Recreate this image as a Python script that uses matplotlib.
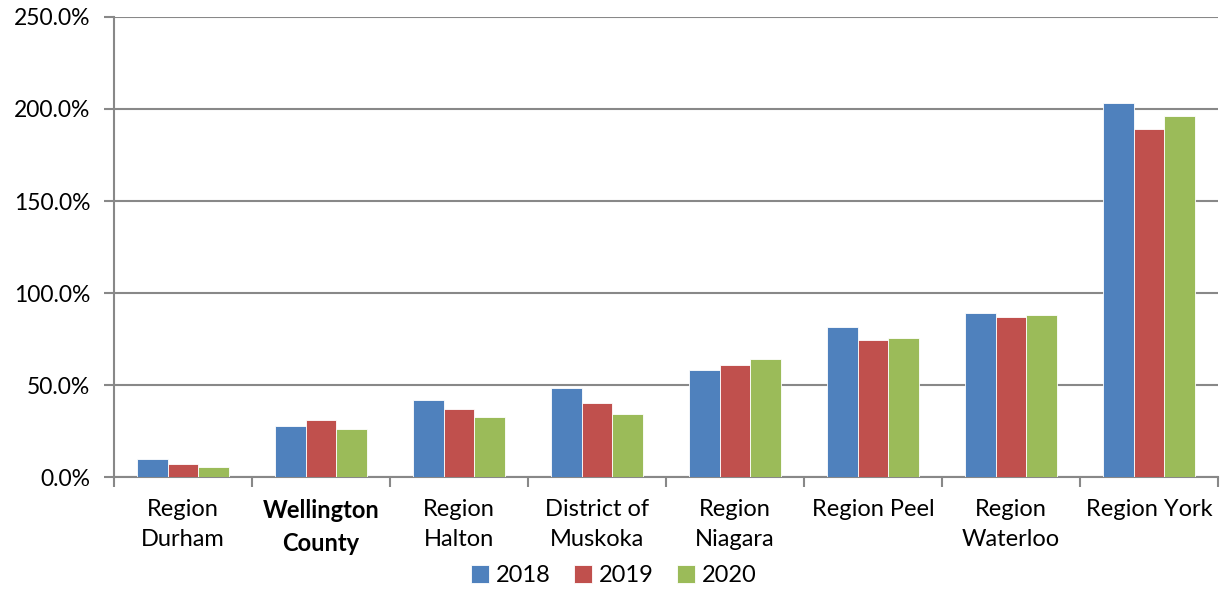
import numpy as np
import matplotlib
matplotlib.use("Agg")
from matplotlib import pyplot as plt
from matplotlib.ticker import FuncFormatter, FixedLocator

regions = ["Region\nDurham", "Wellington\nCounty", "Region\nHalton", "District of\nMuskoka",
           "Region\nNiagara", "Region Peel\n", "Region\nWaterloo", "Region York\n"]
years = ["2018", "2019", "2020"]
values_2018 = [9.6, 27.7, 41.8, 48.2, 58.2, 81.5, 89.0, 203.1]
values_2019 = [7.1, 31.1, 37.1, 40.2, 60.9, 74.6, 87.0, 189.1]
values_2020 = [5.4, 26.2, 32.8, 34.2, 64.3, 75.5, 88.0, 196.4]
colors = ["#4F81BD", "#C0504D", "#9BBB59"]

plt.rcParams["font.family"] = ["Lato", "DejaVu Sans"]

fig = plt.figure(figsize=(12.28, 5.9), dpi=100)
ax = fig.add_axes([0.0928, 0.1915, 0.8991, 0.7797])

x = np.arange(len(regions))
width = 1 / 4.5
for i, (vals, year) in enumerate(zip([values_2018, values_2019, values_2020], years)):
    ax.bar(x + (i - 1) * width, vals, width, color=colors[i], label=year,
           edgecolor="white", linewidth=0.6, zorder=3)

ax.set_xlim(-0.5, len(regions) - 0.5)
ax.set_ylim(0, 250)
ax.set_yticks(np.arange(0, 251, 50))
ax.yaxis.set_major_formatter(FuncFormatter(lambda v, p: f"{v:.1f}%"))
ax.grid(axis="y", color="#888888", linewidth=1.5, zorder=0)

ax.set_xticks(x)
ax.set_xticklabels(regions, fontsize=17, linespacing=1.5)
ax.get_xticklabels()[1].set_fontweight("bold")
ax.tick_params(axis="x", which="major", length=0, pad=16)
ax.xaxis.set_minor_locator(FixedLocator(np.arange(-0.5, len(regions), 1)))
ax.tick_params(axis="x", which="minor", length=7, width=1.5, color="#888888")
ax.tick_params(axis="y", labelsize=16.5, length=7, width=1.5, color="#888888", pad=10)

for side in ["top", "right"]:
    ax.spines[side].set_visible(False)
for side in ["left", "bottom"]:
    ax.spines[side].set_color("#888888")
    ax.spines[side].set_linewidth(1.5)

fig.legend(loc="center", bbox_to_anchor=(0.5, 0.024), ncol=3, frameon=False,
           fontsize=17, handlelength=0.75, handleheight=0.75, handletextpad=0.3,
           columnspacing=1.0)

fig.savefig("out.png", dpi=100)
